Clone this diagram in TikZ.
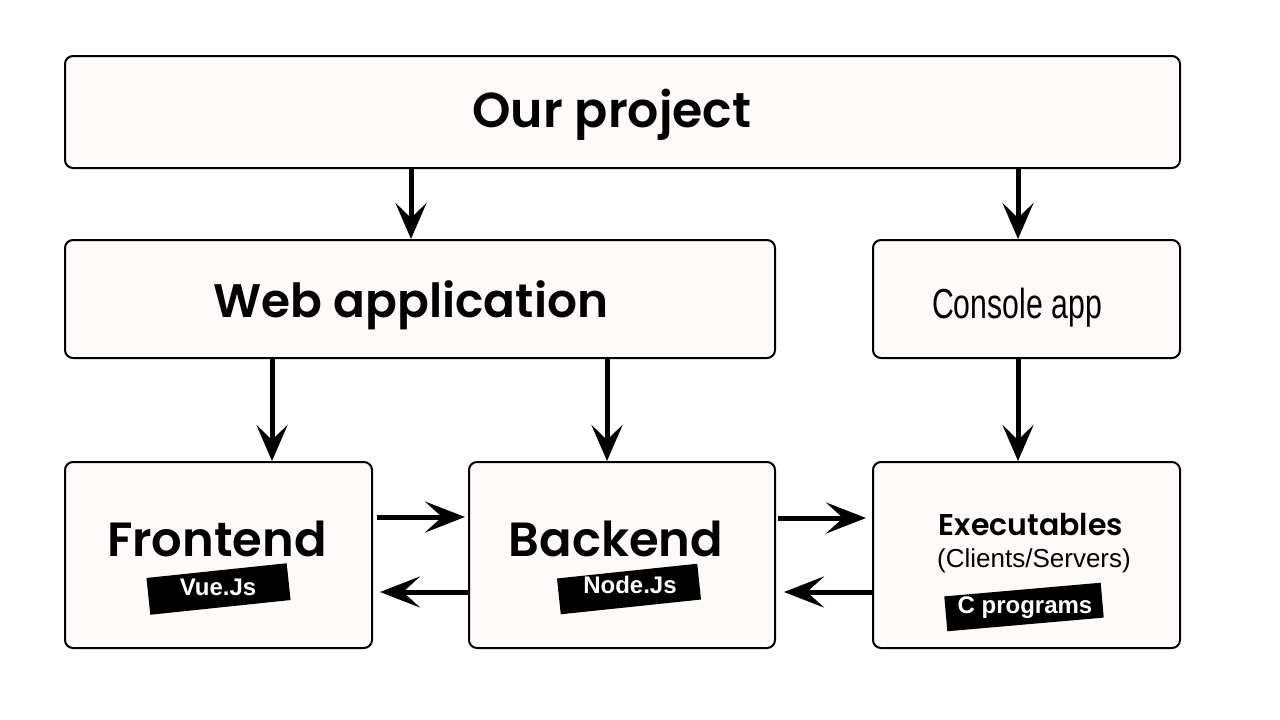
\documentclass[tikz,border=0pt]{standalone}
\usepackage{fontspec}
\setmainfont{Poppins}[BoldFont={Poppins SemiBold}]
\newfontfamily\arialfont{Liberation Sans}
\usetikzlibrary{arrows.meta,calc}
\definecolor{boxfill}{RGB}{255,250,250}
\tikzset{
  box/.style={draw=black, line width=2pt, fill=boxfill, rounded corners=8pt, inner sep=0pt},
  arr/.style={line width=5pt, -{Stealth[length=36pt, width=31pt, inset=15pt]}},
  harr/.style={line width=5pt, -{Stealth[length=40pt, width=31pt, inset=17pt]}},
  tagbox/.style={fill=black, inner sep=0pt, rotate=6},
  tagtext/.style={text=white, font=\arialfont\bfseries\fontsize{24}{24}\selectfont, inner sep=0pt, anchor=base},
  title/.style={inner sep=0pt, anchor=base}
}
\begin{document}
\begin{tikzpicture}[x=1pt,y=-1pt]
\useasboundingbox[fill=white] (0,0) rectangle (1280,720);
% boxes
\node[box, minimum width=1115pt, minimum height=112pt] (op) at (622.5,112) {};
\node[box, minimum width=710pt, minimum height=118pt] (wa) at (420,299) {};
\node[box, minimum width=307pt, minimum height=118pt] (ca) at (1026.5,299) {};
\node[box, minimum width=307pt, minimum height=186pt] (fe) at (218.5,555) {};
\node[box, minimum width=306pt, minimum height=186pt] (be) at (622,555) {};
\node[box, minimum width=307pt, minimum height=186pt] (ex) at (1026.5,555) {};
% texts
\node[title, font=\bfseries\fontsize{49}{49}\selectfont] (opt) at (612,127) {Our project};
\node[title, font=\bfseries\fontsize{47}{47}\selectfont] (wat) at (411,317) {Web application};
\node[title] (cat) at (1017,318) {\scalebox{0.72}[1]{\arialfont\fontsize{42}{42}\selectfont Console app}};
\node[title, font=\bfseries\fontsize{48}{48}\selectfont] (fet) at (217,556) {Frontend};
\node[title, font=\bfseries\fontsize{48}{48}\selectfont] (bet) at (616,556) {Backend};
\node[title, font=\bfseries\fontsize{30}{30}\selectfont] (ext) at (1031,535) {Executables};
\node[title, font=\arialfont\fontsize{26}{26}\selectfont] (exs) at (1034,567) {(Clients/Servers)};
% tags
\node[tagbox, minimum width=141pt, minimum height=37pt] (vb) at (218.5,589) {};
\node[tagtext] (vt) at (218,595) {Vue.Js};
\node[tagbox, minimum width=141pt, minimum height=36pt] (nb) at (629,589) {};
\node[tagtext] (nt) at (630,593) {Node.Js};
\node[tagbox, minimum width=157pt, minimum height=35pt, rotate=-1] (cb) at (1024,607) {};
\node[tagtext] (ct) at (1025,613) {C programs};
% connectors
\draw[arr] (op.south -| 411,0) -- (wa.north -| 411,0);
\draw[arr] (op.south -| 1018,0) -- (ca.north -| 1018,0);
\draw[arr] (wa.south -| 272,0) -- (fe.north -| 272,0);
\draw[arr] (wa.south -| 607,0) -- (be.north -| 607,0);
\draw[arr] (ca.south -| 1018,0) -- (ex.north -| 1018,0);
\draw[harr] ($(fe.east |- 0,517)+(4,0)$) -- ($(be.west |- 0,517)+(-3,0)$);
\draw[harr] (be.west |- 0,592) -- ($(fe.east |- 0,592)+(7,0)$);
\draw[harr] ($(be.east |- 0,518)+(2,0)$) -- ($(ex.west |- 0,518)+(-6,0)$);
\draw[harr] (ex.west |- 0,592) -- ($(be.east |- 0,592)+(8,0)$);
\end{tikzpicture}
\end{document}
